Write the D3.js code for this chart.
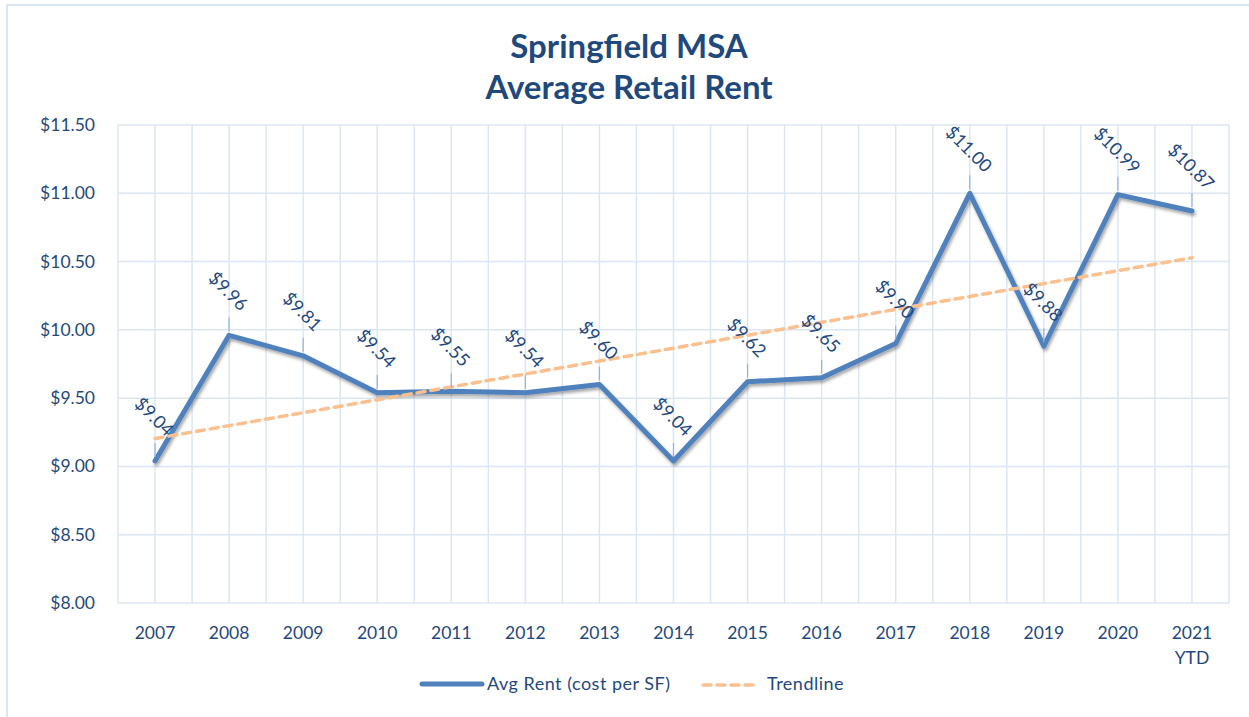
<!DOCTYPE html>
<html>
<head>
<meta charset="utf-8">
<script src="https://cdn.jsdelivr.net/npm/d3@7"></script>
<style>
  body { margin: 0; background: #fff; }
  text { font-family: Lato, "Open Sans", sans-serif; }
</style>
</head>
<body>
<svg id="chart" width="1249" height="717"></svg>
<script>
// data
var years = ['2007', '2008', '2009', '2010', '2011', '2012', '2013', '2014',
             '2015', '2016', '2017', '2018', '2019', '2020', '2021'];
var subLabels = ['', '', '', '', '', '', '', '', '', '', '', '', '', '', 'YTD'];
var avgRent = [9.04, 9.96, 9.81, 9.54, 9.55, 9.54, 9.60, 9.04,
               9.62, 9.65, 9.90, 11.00, 9.88, 10.99, 10.87];
var yTicks = [8.00, 8.50, 9.00, 9.50, 10.00, 10.50, 11.00, 11.50];

var textColor = '#1f497d';
var gridColor = '#dce6f2';
var lineColor = '#4f81bd';
var trendColor = '#fac090';

var svg = d3.select('#chart');

// outer border of the chart area
svg.append('rect')
    .attr('x', 7).attr('y', 5)
    .attr('width', 1260).attr('height', 730)
    .attr('fill', 'none')
    .attr('stroke', gridColor)
    .attr('stroke-width', 2);

var plotLeft = 118, plotRight = 1229, plotTop = 125, plotBottom = 603;

var x = d3.scaleBand().domain(years).range([plotLeft, plotRight]);
var y = d3.scaleLinear().domain([8, 11.5]).range([plotBottom, plotTop]);
var cx = function (yr) { return x(yr) + x.bandwidth() / 2; };

// linear trendline (least squares over the series)
var n = avgRent.length;
var meanI = (n - 1) / 2;
var meanY = d3.mean(avgRent);
var sxy = d3.sum(avgRent, function (v, i) { return (i - meanI) * (v - meanY); });
var sxx = d3.sum(avgRent, function (v, i) { return (i - meanI) * (i - meanI); });
var slope = sxy / sxx;
var trend = avgRent.map(function (v, i) { return meanY + slope * (i - meanI); });

// grid
var grid = svg.append('g');
grid.selectAll('line.h')
    .data(yTicks)
    .enter().append('line')
    .attr('x1', plotLeft).attr('x2', plotRight)
    .attr('y1', function (d) { return y(d); })
    .attr('y2', function (d) { return y(d); })
    .attr('stroke', gridColor).attr('stroke-width', 1.5);

var vLines = [];
years.forEach(function (yr) { vLines.push(x(yr)); vLines.push(cx(yr)); });
vLines.push(plotRight);
grid.selectAll('line.v')
    .data(vLines)
    .enter().append('line')
    .attr('x1', function (d) { return d; }).attr('x2', function (d) { return d; })
    .attr('y1', plotTop).attr('y2', plotBottom)
    .attr('stroke', gridColor).attr('stroke-width', 1.5);

// y axis labels
svg.append('g').selectAll('text')
    .data(yTicks)
    .enter().append('text')
    .attr('x', 95)
    .attr('y', function (d) { return y(d) + 6; })
    .attr('text-anchor', 'end')
    .attr('font-size', 17.5)
    .attr('fill', textColor)
    .text(function (d) { return '$' + d.toFixed(2); });

// x axis labels
var xl = svg.append('g').selectAll('text')
    .data(years)
    .enter().append('text')
    .attr('x', function (d) { return cx(d); })
    .attr('y', 639)
    .attr('text-anchor', 'middle')
    .attr('font-size', 17.5)
    .attr('fill', textColor);
xl.append('tspan').text(function (d) { return d; });
xl.append('tspan')
    .attr('x', function (d) { return cx(d); })
    .attr('dy', 25)
    .text(function (d, i) { return subLabels[i]; });

// drop shadow for the main line
var defs = svg.append('defs');
var f = defs.append('filter').attr('id', 'shadow')
    .attr('x', '-5%').attr('y', '-5%').attr('width', '110%').attr('height', '115%');
f.append('feDropShadow')
    .attr('dx', 1.5).attr('dy', 2.5).attr('stdDeviation', 1.5)
    .attr('flood-color', '#000').attr('flood-opacity', 0.35);

var line = d3.line()
    .x(function (d, i) { return cx(years[i]); })
    .y(function (d) { return y(d); });

svg.append('path')
    .datum(avgRent)
    .attr('d', line)
    .attr('fill', 'none')
    .attr('stroke', lineColor)
    .attr('stroke-width', 5)
    .attr('stroke-linejoin', 'round')
    .attr('stroke-linecap', 'round')
    .attr('filter', 'url(#shadow)');

svg.append('path')
    .datum(trend)
    .attr('d', line)
    .attr('fill', 'none')
    .attr('stroke', trendColor)
    .attr('stroke-width', 3.5)
    .attr('stroke-dasharray', '8,6')
    .attr('stroke-linecap', 'round');

// data labels with little leader lines
var lbl = svg.append('g').selectAll('g')
    .data(avgRent)
    .enter().append('g')
    .attr('transform', function (d, i) {
        return 'translate(' + cx(years[i]) + ',' + y(d) + ')';
    });
lbl.append('line')
    .attr('x1', 0).attr('x2', 0)
    .attr('y1', -4).attr('y2', -18)
    .attr('stroke', '#8eb4e3').attr('stroke-width', 1.2);
lbl.append('text')
    .attr('transform', 'translate(-1,-44) rotate(45)')
    .attr('text-anchor', 'middle')
    .attr('dy', 6)
    .attr('font-size', 18)
    .attr('fill', textColor)
    .text(function (d) { return '$' + d.toFixed(2); });

// title
var title = svg.append('text')
    .attr('text-anchor', 'middle')
    .attr('font-size', 33)
    .attr('font-weight', 'bold')
    .attr('fill', '#1f497d');
title.append('tspan').attr('x', 629).attr('y', 58).text('Springfield MSA');
title.append('tspan').attr('x', 629).attr('y', 99).text('Average Retail Rent');

// legend
var leg = svg.append('g');
leg.append('line')
    .attr('x1', 422).attr('x2', 482).attr('y1', 684).attr('y2', 684)
    .attr('stroke', lineColor).attr('stroke-width', 5).attr('stroke-linecap', 'round');
leg.append('text')
    .attr('x', 487).attr('y', 690)
    .attr('font-size', 18).attr('letter-spacing', 0.5).attr('fill', textColor)
    .text('Avg Rent (cost per SF)');
leg.append('line')
    .attr('x1', 703).attr('x2', 759).attr('y1', 685).attr('y2', 685)
    .attr('stroke', trendColor).attr('stroke-width', 3.5)
    .attr('stroke-dasharray', '8,6').attr('stroke-linecap', 'round');
leg.append('text')
    .attr('x', 767).attr('y', 690)
    .attr('font-size', 18).attr('letter-spacing', 0.5).attr('fill', textColor)
    .text('Trendline');
</script>
</body>
</html>
